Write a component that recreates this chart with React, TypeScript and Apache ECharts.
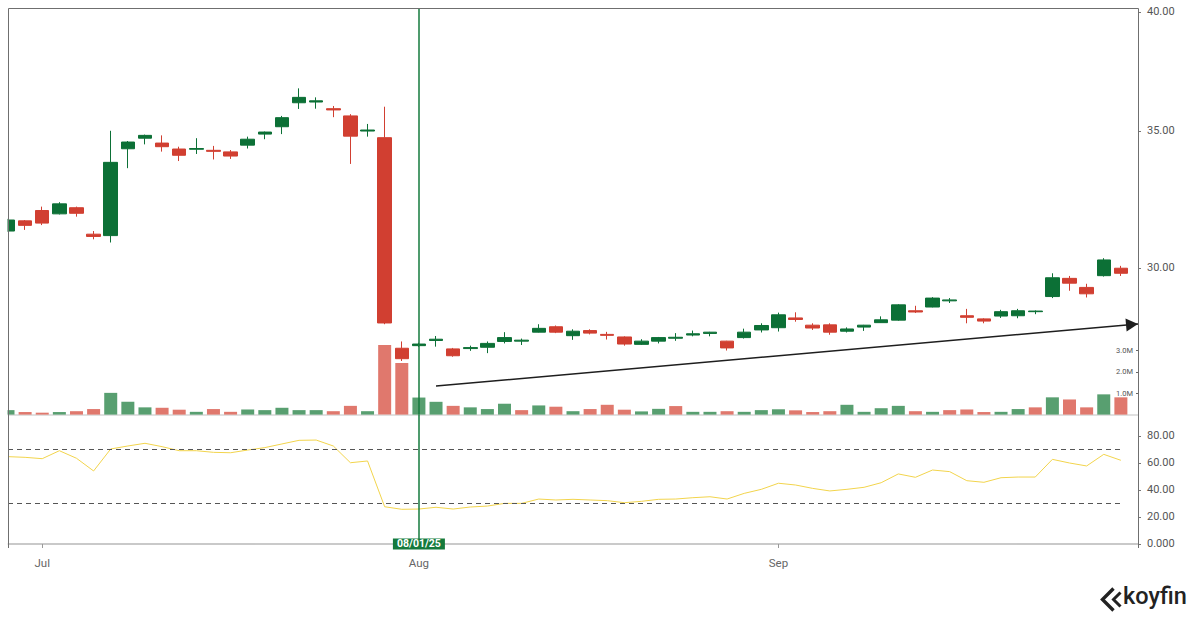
import React, { useEffect, useRef } from 'react';
import * as echarts from 'echarts';

// ---- data ----
const dates = [
  '2025-06-27', '2025-06-30',
  '2025-07-01', '2025-07-02', '2025-07-03', '2025-07-07', '2025-07-08', '2025-07-09', '2025-07-10', '2025-07-11',
  '2025-07-14', '2025-07-15', '2025-07-16', '2025-07-17', '2025-07-18', '2025-07-21', '2025-07-22', '2025-07-23',
  '2025-07-24', '2025-07-25', '2025-07-28', '2025-07-29', '2025-07-30', '2025-07-31',
  '2025-08-01', '2025-08-04', '2025-08-05', '2025-08-06', '2025-08-07', '2025-08-08', '2025-08-11', '2025-08-12',
  '2025-08-13', '2025-08-14', '2025-08-15', '2025-08-18', '2025-08-19', '2025-08-20', '2025-08-21', '2025-08-22',
  '2025-08-25', '2025-08-26', '2025-08-27', '2025-08-28', '2025-08-29',
  '2025-09-02', '2025-09-03', '2025-09-04', '2025-09-05', '2025-09-08', '2025-09-09', '2025-09-10', '2025-09-11',
  '2025-09-12', '2025-09-15', '2025-09-16', '2025-09-17', '2025-09-18', '2025-09-19', '2025-09-22', '2025-09-23',
  '2025-09-24', '2025-09-25', '2025-09-26', '2025-09-29', '2025-09-30',
  '', // empty slot on the right edge
];

const open = [
  31.27, 31.63, 32.0, 31.88, 32.1, 31.16, 31.11, 34.3, 34.71, 34.52,
  34.29, 34.28, 34.24, 34.18, 34.44, 34.87, 35.16, 36.12, 36.15, 35.88,
  35.59, 34.99, 34.73, 27.41, 27.49, 27.65, 27.39, 27.4, 27.44, 27.62,
  27.63, 27.91, 28.08, 27.8, 27.96, 27.84, 27.76, 27.53, 27.63, 27.72,
  27.82, 27.87, 27.63, 27.74, 27.98, 28.05, 28.36, 28.13, 28.14, 27.94,
  28.07, 28.21, 28.29, 28.59, 28.71, 28.91, 28.43, 28.33, 28.42, 28.43,
  28.56, 29.05, 29.65, 29.35, 29.74, 29.99,
];
const high = [
  31.7, 31.66, 32.14, 32.3, 32.14, 31.27, 35.0, 34.6, 34.85, 34.82,
  34.38, 34.71, 34.41, 34.25, 34.77, 34.97, 35.59, 36.71, 36.34, 35.99,
  35.66, 35.27, 35.96, 27.62, 27.58, 27.79, 27.42, 27.49, 27.62, 27.91,
  27.71, 28.16, 28.12, 28.0, 28.0, 27.92, 27.78, 27.69, 27.76, 27.88,
  27.96, 27.92, 27.64, 28.02, 28.19, 28.53, 28.54, 28.19, 28.19, 28.06,
  28.14, 28.41, 28.8, 28.75, 29.03, 29.0, 28.65, 28.35, 28.62, 28.65,
  28.6, 29.82, 29.73, 29.47, 30.33, 30.07,
];
const low = [
  31.25, 31.31, 31.48, 31.86, 31.78, 30.98, 30.87, 33.56, 34.47, 34.19,
  33.83, 34.1, 33.89, 33.91, 34.31, 34.67, 34.87, 35.87, 35.88, 35.54,
  33.72, 34.77, 28.16, 27.02, 27.45, 27.46, 27.15, 27.33, 27.26, 27.56,
  27.51, 27.9, 27.88, 27.67, 27.84, 27.68, 27.49, 27.51, 27.56, 27.64,
  27.78, 27.78, 27.34, 27.71, 27.9, 27.93, 28.24, 27.98, 27.83, 27.9,
  27.95, 28.2, 28.27, 28.52, 28.7, 28.84, 28.19, 28.19, 28.36, 28.35,
  28.48, 29.0, 29.24, 29.02, 29.71, 29.73,
];
const close = [
  31.66, 31.47, 31.55, 32.24, 31.9, 31.08, 33.78, 34.56, 34.82, 34.38,
  34.05, 34.31, 34.2, 34.02, 34.67, 34.95, 35.52, 36.34, 36.2, 35.83,
  34.79, 35.03, 28.2, 27.09, 27.54, 27.69, 27.18, 27.43, 27.56, 27.74,
  27.66, 28.03, 27.91, 27.94, 27.88, 27.81, 27.54, 27.63, 27.74, 27.75,
  27.86, 27.91, 27.42, 27.91, 28.12, 28.46, 28.31, 28.04, 27.91, 28.01,
  28.13, 28.3, 28.78, 28.55, 29.0, 28.94, 28.38, 28.26, 28.56, 28.59,
  28.58, 29.67, 29.49, 29.14, 30.27, 29.82,
];

// volume in millions, and its colour direction (1 = up / green, 0 = down / red)
const volumeM = [
  0.21, 0.12, 0.09, 0.12, 0.16, 0.26, 1.02, 0.6, 0.34, 0.32,
  0.23, 0.13, 0.26, 0.13, 0.24, 0.21, 0.32, 0.21, 0.21, 0.16,
  0.41, 0.16, 3.27, 2.42, 0.8, 0.6, 0.41, 0.34, 0.26, 0.51,
  0.21, 0.43, 0.37, 0.16, 0.26, 0.46, 0.23, 0.15, 0.27, 0.4,
  0.13, 0.13, 0.16, 0.13, 0.21, 0.25, 0.2, 0.12, 0.16, 0.46,
  0.13, 0.3, 0.41, 0.16, 0.13, 0.21, 0.24, 0.12, 0.13, 0.26,
  0.34, 0.81, 0.71, 0.34, 0.95, 0.81,
];
const volumeUp = [
  1, 0, 0, 1, 0, 0, 1, 1, 1, 0,
  0, 1, 0, 0, 1, 1, 1, 1, 1, 0,
  0, 1, 0, 0, 1, 1, 0, 1, 1, 1,
  0, 1, 0, 1, 0, 0, 0, 1, 1, 0,
  1, 1, 0, 1, 1, 1, 0, 0, 0, 1,
  1, 1, 1, 0, 1, 0, 0, 0, 1, 1,
  0, 1, 0, 0, 1, 0,
];

const rsi = [
  64.7, 64.2, 63.2, 69.1, 63.5, 54.1, 70.4, 72.6, 74.6, 72.1,
  69.1, 69.1, 67.9, 67.6, 69.6, 71.4, 74.1, 76.8, 77.0, 72.6,
  60.2, 61.5, 27.6, 25.7, 25.9, 27.2, 25.9, 27.4, 28.1, 30.1,
  30.1, 33.3, 32.6, 33.1, 32.6, 32.1, 30.6, 31.6, 33.1, 33.3,
  34.3, 35.0, 33.3, 37.5, 40.5, 45.0, 43.7, 41.2, 39.3, 40.5,
  42.0, 45.4, 51.9, 49.4, 54.8, 53.6, 46.9, 45.7, 49.1, 49.6,
  49.6, 62.7, 60.0, 57.8, 66.4, 62.0,
];

const priceTicks = [30, 35, 40];
const priceRange = [25.44, 40.18];
const volumeTicksM = [1, 2, 3];
const volumeMaxM = 3.5;
const rsiTicks = [0, 20, 40, 60, 80];
const rsiRange = [-2.963, 95.85];
const rsiBands = [70, 30];
const markerDate = '2025-08-01';
const markerLabel = '08/01/25';
const trendFrom = { index: 25, price: 26.27 };
const trendTo = { index: 66, price: 28.17 };
const monthNames = ['Jan', 'Feb', 'Mar', 'Apr', 'May', 'Jun', 'Jul', 'Aug', 'Sep', 'Oct', 'Nov', 'Dec'];

// ---- styles ----
const UP = '#0c7036';
const DOWN = '#d13f31';
const VOL_UP = '#589f70';
const VOL_DOWN = '#e0786d';
const RSI_COLOR = '#f2d44c';
const MARK = '#157a3c';
const FONT = 'Roboto, "Liberation Sans", sans-serif';

const L = Math.log;
const lastIdx = close.length - 1;

function isMonthStart(index: number) {
  const v = dates[index];
  if (!v || index === 0) return false;
  return v.slice(0, 7) !== dates[index - 1].slice(0, 7);
}

function buildOption() {
  const candles = close.map((c, i) => [L(open[i]), L(c), L(low[i]), L(high[i])]);
  const vols = volumeM.map((v, i) => ({
    value: v * 1e6,
    itemStyle: { color: volumeUp[i] ? VOL_UP : VOL_DOWN },
  }));
  const grids = [
    { left: 8, right: 62, top: 8, bottom: 205.4, outerBoundsMode: 'none' },
    { left: 8, right: 62, top: 340, bottom: 205.4, outerBoundsMode: 'none' },
    { left: 8, right: 62, top: 414.6, bottom: 72, outerBoundsMode: 'none' },
  ];
  const baseX = (gridIndex: number) => ({
    type: 'category',
    gridIndex,
    data: dates,
    boundaryGap: false,
    axisLine: { show: false },
    axisTick: { show: false },
    axisLabel: { show: false },
    splitLine: { show: false },
  });
  return {
    animation: false,
    backgroundColor: '#ffffff',
    textStyle: { fontFamily: FONT },
    grid: grids,
    xAxis: [
      { ...baseX(0), axisLine: { show: true, lineStyle: { color: '#d6d6d6', width: 1.5 } } },
      baseX(1),
      {
        ...baseX(2),
        axisLine: { show: true, lineStyle: { color: '#b8b8b8', width: 1.5 } },
        axisTick: {
          show: true,
          length: 4,
          interval: (i: number) => isMonthStart(i),
          lineStyle: { color: '#999' },
        },
        axisLabel: {
          show: true,
          interval: (i: number) => isMonthStart(i),
          formatter: (v: string) => (v ? monthNames[Number(v.slice(5, 7)) - 1] : ''),
          color: '#666',
          fontSize: 11.5,
          margin: 9,
          fontFamily: FONT,
        },
      },
    ],
    yAxis: [
      {
        type: 'value',
        gridIndex: 0,
        position: 'right',
        min: L(priceRange[0]),
        max: L(priceRange[1]),
        axisLine: { show: false },
        splitLine: { show: false },
        axisTick: {
          show: true,
          length: 3,
          customValues: priceTicks.map(L),
          lineStyle: { color: '#777' },
        },
        axisLabel: {
          customValues: priceTicks.map(L),
          formatter: (v: number) => Math.exp(v).toFixed(2),
          color: '#555',
          fontSize: 11,
          margin: 9,
          fontFamily: FONT,
        },
      },
      {
        type: 'value',
        gridIndex: 1,
        position: 'right',
        min: 0,
        max: volumeMaxM * 1e6,
        axisLine: { show: false },
        splitLine: { show: false },
        axisTick: {
          show: true,
          inside: true,
          length: 2,
          customValues: volumeTicksM.map((v) => v * 1e6),
          lineStyle: { color: '#666' },
        },
        axisLabel: {
          inside: true,
          customValues: volumeTicksM.map((v) => v * 1e6),
          formatter: (v: number) => (v / 1e6).toFixed(1) + 'M',
          color: '#555',
          fontSize: 7.5,
          margin: 5,
          fontFamily: FONT,
        },
      },
      {
        type: 'value',
        gridIndex: 2,
        position: 'right',
        min: rsiRange[0],
        max: rsiRange[1],
        axisLine: { show: false },
        splitLine: { show: false },
        axisTick: {
          show: true,
          length: 3,
          customValues: rsiTicks,
          lineStyle: { color: '#777' },
        },
        axisLabel: {
          customValues: rsiTicks,
          formatter: (v: number) => (v === 0 ? '0.000' : v.toFixed(2)),
          color: '#555',
          fontSize: 11,
          margin: 9,
          fontFamily: FONT,
        },
      },
    ],
    series: [
      {
        type: 'bar',
        xAxisIndex: 1,
        yAxisIndex: 1,
        data: vols,
        barWidth: 13,
        z: 1,
      },
      {
        type: 'candlestick',
        xAxisIndex: 0,
        yAxisIndex: 0,
        data: candles,
        barWidth: 14,
        z: 3,
        itemStyle: {
          color: UP,
          color0: DOWN,
          borderColor: UP,
          borderColor0: DOWN,
          borderWidth: 1,
        },
        markLine: {
          silent: true,
          symbol: ['none', 'none'],
          label: { show: false },
          data: [
            { xAxis: markerDate, lineStyle: { color: MARK, width: 1.5, type: 'solid' } },
            [
              {
                coord: [trendFrom.index, L(trendFrom.price)],
                symbol: 'none',
                lineStyle: { color: '#1e1e1e', width: 1.5, type: 'solid' },
              },
              {
                coord: [trendTo.index, L(trendTo.price)],
                symbol: 'triangle',
                symbolSize: [13, 12],
                symbolOffset: [0, 6],
              },
            ],
          ],
        },
      },
      {
        type: 'line',
        xAxisIndex: 2,
        yAxisIndex: 2,
        data: rsi,
        showSymbol: false,
        symbol: 'none',
        lineStyle: { color: RSI_COLOR, width: 1 },
        z: 3,
        markLine: {
          silent: true,
          symbol: ['none', 'none'],
          label: { show: false },
          data: [
            { xAxis: markerDate, lineStyle: { color: MARK, width: 1.5, type: 'solid' } },
            ...rsiBands.map((b) => [
              { coord: [0, b], lineStyle: { color: '#555', width: 1, type: [5, 4] } },
              { coord: [lastIdx, b] },
            ]),
          ],
        },
        markPoint: {
          silent: true,
          data: [
            {
              coord: [markerDate, 0],
              symbol: 'rect',
              symbolSize: [52, 11],
              itemStyle: { color: MARK },
              label: {
                show: true,
                formatter: markerLabel,
                color: '#ffffff',
                fontSize: 10.5,
                fontWeight: 'bold',
                fontFamily: FONT,
              },
            },
          ],
        },
      },
    ],
    graphic: [
      { type: 'rect', z: 100, silent: true, shape: { x: 0, y: 0, width: 7.5, height: 560 }, style: { fill: '#ffffff' } },
      {
        type: 'polyline',
        z: 101,
        silent: true,
        shape: { points: [[8.5, 548], [8.5, 8.5], [1138.5, 8.5], [1138.5, 548]] },
        style: { stroke: '#6f6f6f', lineWidth: 1, fill: 'none' },
      },
      {
        type: 'polyline',
        z: 101,
        silent: true,
        shape: { points: [[1113.5, 588.5], [1102.5, 599.5], [1113.5, 610.5]] },
        style: { stroke: '#222', lineWidth: 3.4, fill: 'none' },
      },
      {
        type: 'polyline',
        z: 101,
        silent: true,
        shape: { points: [[1120.5, 592.5], [1113.5, 599.5], [1120.5, 606.5]] },
        style: { stroke: '#222', lineWidth: 3, fill: 'none' },
      },
      {
        type: 'text',
        z: 101,
        silent: true,
        style: {
          x: 1123,
          y: 584,
          text: 'koyfin',
          fill: '#222',
          fontSize: 23.5,
          fontWeight: 500,
          fontFamily: FONT,
          verticalAlign: 'top',
        },
      },
    ],
  };
}

export default function App() {
  const ref = useRef<HTMLDivElement>(null);
  useEffect(() => {
    if (!ref.current) return;
    const chart = echarts.init(ref.current, null, { renderer: 'svg' });
    chart.setOption(buildOption() as any);
    return () => chart.dispose();
  }, []);
  return (
    <div
      ref={ref}
      style={{ position: 'fixed', left: 0, top: 0, width: 1200, height: 620, background: '#ffffff' }}
    />
  );
}
